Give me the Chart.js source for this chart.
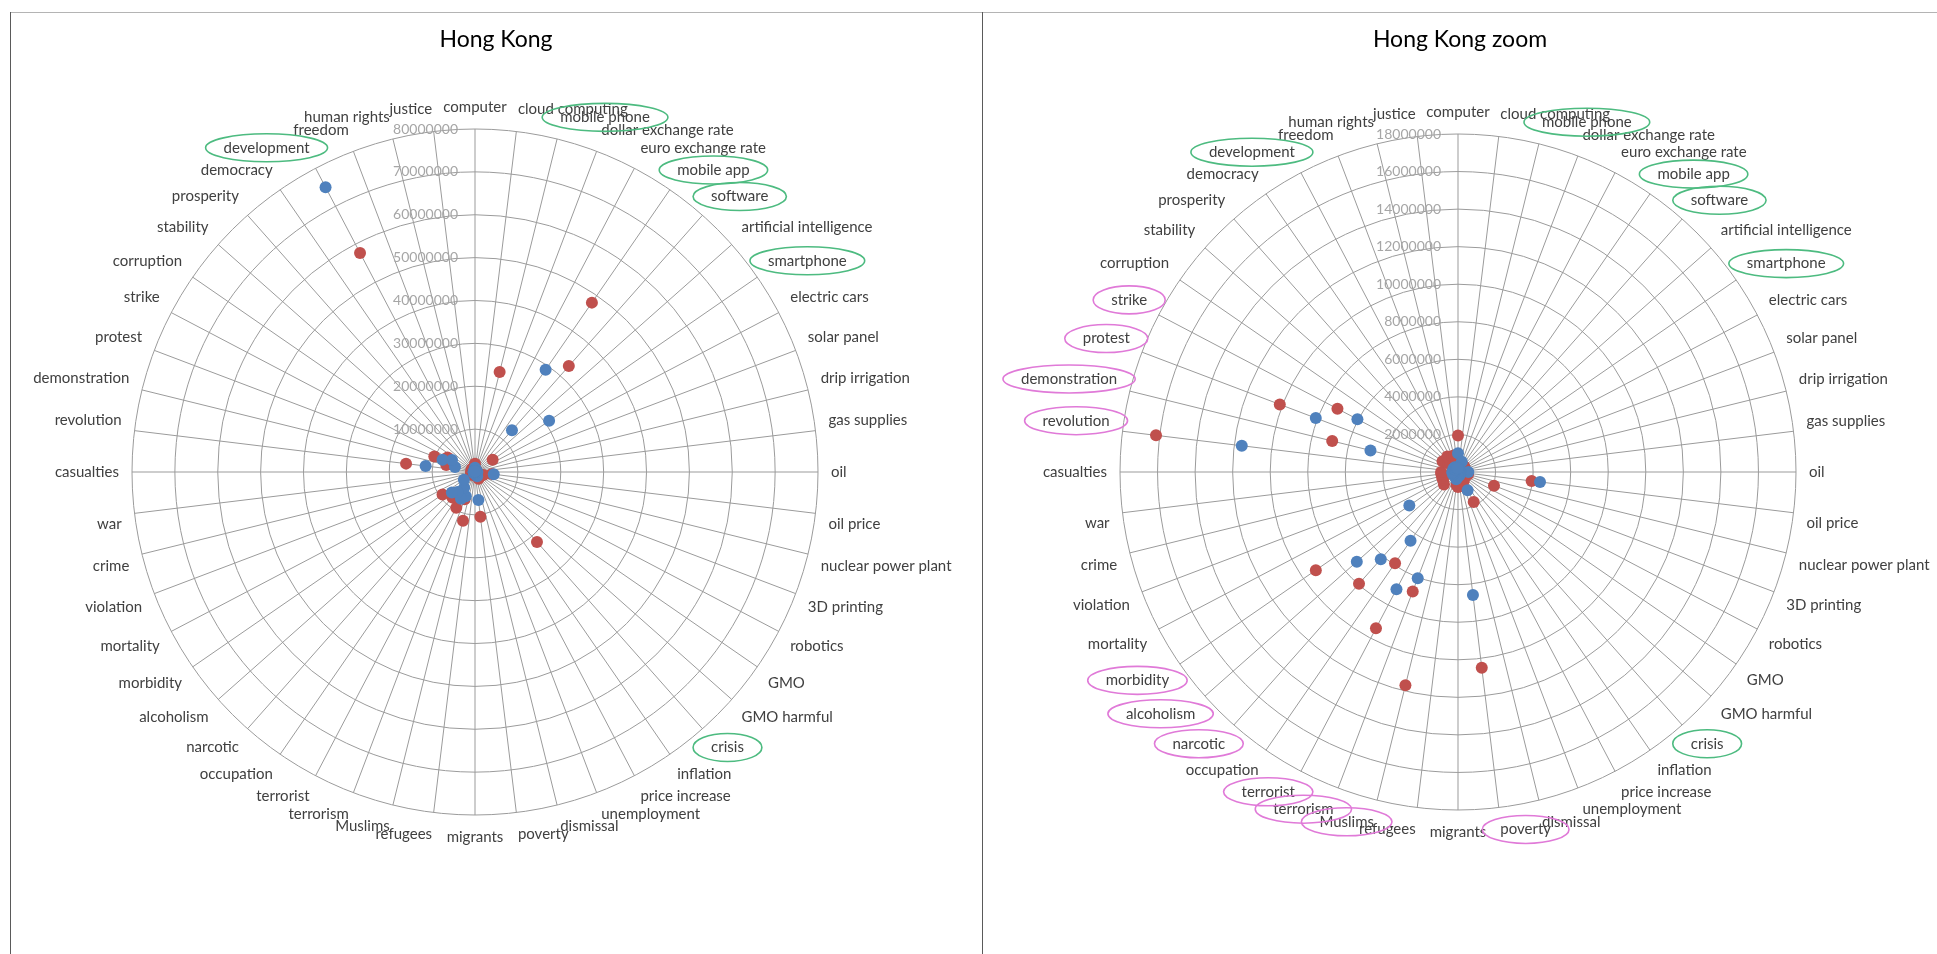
<!DOCTYPE html>
<html>
<head>
<meta charset="utf-8">
<title>Hong Kong</title>
<script src="https://cdn.jsdelivr.net/npm/chart.js@4.4.1/dist/chart.umd.min.js"></script>
<style>
  html, body { margin: 0; padding: 0; background: #fff; width: 1937px; height: 954px; overflow: hidden; }
  .line { position: absolute; }
  #topLine { left: 10px; top: 12px; width: 1927px; border-top: 1px solid #b4b4b4; }
  #leftLine { left: 10px; top: 12px; height: 942px; border-left: 1px solid #5a5a5a; }
  #midLine { left: 982px; top: 12px; height: 942px; border-left: 1px solid #5a5a5a; }
  .title { position: absolute; top: 24px; font-family: Lato, sans-serif; font-size: 23px; color: #000;
           transform: translateX(-50%); white-space: nowrap; }
  canvas { position: absolute; top: 12px; }
</style>
</head>
<body>
<div class="line" id="topLine"></div>
<div class="line" id="leftLine"></div>
<div class="line" id="midLine"></div>
<canvas id="hk" width="1050" height="942" style="left:-50px"></canvas>
<canvas id="hkZoom" width="1050" height="942" style="left:933px"></canvas>
<div class="title" style="left:496px">Hong Kong</div>
<div class="title" style="left:1460px">Hong Kong zoom</div>
<script>
const categories = [
  'computer', 'cloud computing', 'mobile phone', 'dollar exchange rate', 'euro exchange rate',
  'mobile app', 'software', 'artificial intelligence', 'smartphone', 'electric cars',
  'solar panel', 'drip irrigation', 'gas supplies', 'oil', 'oil price',
  'nuclear power plant', '3D printing', 'robotics', 'GMO', 'GMO harmful',
  'crisis', 'inflation', 'price increase', 'unemployment', 'dismissal',
  'poverty', 'migrants', 'refugees', 'Muslims', 'terrorism',
  'terrorist', 'occupation', 'narcotic', 'alcoholism', 'morbidity',
  'mortality', 'violation', 'crime', 'war', 'casualties',
  'revolution', 'demonstration', 'protest', 'strike', 'corruption',
  'stability', 'prosperity', 'democracy', 'development', 'freedom',
  'human rights', 'justice'
];

// blue series
const blueValues = [
  1000000, 150000, 300000, 580000, 150000,
  29000000, 13000000, 150000, 21000000, 100000,
  100000, 50000, 150000, 550000, 4400000,
  150000, 150000, 150000, 100000, 100000,
  400000, 150000, 1100000, 200000, 150000,
  6600000, 250000, 200000, 400000, 6050000,
  7050000, 4450000, 6200000, 7200000, 3150000,
  300000, 250000, 250000, 300000, 300000,
  11600000, 4800000, 8100000, 6050000, 300000,
  200000, 200000, 300000, 75000000, 250000,
  250000, 200000
];

// red series
const redValues = [
  1950000, 450000, 24000000, 400000, 450000,
  48000000, 33000000, 450000, 5000000, 350000,
  350000, 300000, 450000, 400000, 3950000,
  550000, 2050000, 450000, 400000, 400000,
  21800000, 550000, 1800000, 700000, 600000,
  10500000, 800000, 700000, 11700000, 6800000,
  9400000, 5900000, 7950000, 1000000, 9200000,
  900000, 900000, 800000, 900000, 900000,
  16200000, 6900000, 10150000, 7250000, 1000000,
  700000, 600000, 1000000, 57700000, 900000,
  900000, 600000
];

const hkTicks = [10000000, 20000000, 30000000, 40000000, 50000000, 60000000, 70000000, 80000000];
const zoomTicks = [2000000, 4000000, 6000000, 8000000, 10000000, 12000000, 14000000, 16000000, 18000000];

// categories left out of the zoomed chart, and the circled labels
const zoomHidden = ['mobile phone', 'mobile app', 'software', 'smartphone', 'development', 'crisis'];
const greenCircled = ['mobile phone', 'mobile app', 'software', 'smartphone', 'development', 'crisis'];
const pinkCircled = ['strike', 'protest', 'demonstration', 'revolution', 'morbidity', 'alcoholism',
  'narcotic', 'terrorist', 'terrorism', 'Muslims', 'poverty'];

const tickLabels = {
  id: 'tickLabels',
  beforeDatasetsDraw(chart) {
    const s = chart.scales.r;
    const ctx = chart.ctx;
    ctx.save();
    ctx.font = '14px Lato';
    ctx.fillStyle = '#a6a6a6';
    ctx.textAlign = 'right';
    ctx.textBaseline = 'middle';
    s.ticks.forEach(t => {
      if (t.value > 0) {
        ctx.fillText(String(t.value), s.xCenter - 17, s.yCenter - s.getDistanceFromCenterForValue(t.value));
      }
    });
    ctx.restore();
  }
};

function circles(green, pink) {
  return {
    id: 'circles',
    afterDraw(chart) {
      const items = chart.scales.r._pointLabelItems;
      const ctx = chart.ctx;
      ctx.save();
      ctx.lineWidth = 1.6;
      categories.forEach((c, i) => {
        let col = null;
        if (green.includes(c)) col = '#4dbb80';
        else if (pink.includes(c)) col = '#e07ad8';
        if (!col || !items[i]) return;
        const it = items[i];
        ctx.beginPath();
        ctx.ellipse((it.left + it.right) / 2, (it.top + it.bottom) / 2,
          (it.right - it.left) / 2 + 18, 14, 0, 0, Math.PI * 2);
        ctx.strokeStyle = col;
        ctx.stroke();
      });
      ctx.restore();
    }
  };
}

function makeChart(id, blue, red, ticks, pad, green, pink) {
  return new Chart(document.getElementById(id), {
    type: 'radar',
    data: {
      labels: categories,
      datasets: [{
        label: 'blue',
        data: blue,
        showLine: false,
        fill: false,
        pointRadius: 6,
        pointHoverRadius: 6,
        pointBorderWidth: 0,
        pointBackgroundColor: '#4F81BD',
        pointBorderColor: '#4F81BD'
      }, {
        label: 'red',
        data: red,
        showLine: false,
        fill: false,
        pointRadius: 6,
        pointHoverRadius: 6,
        pointBorderWidth: 0,
        pointBackgroundColor: '#C0504D',
        pointBorderColor: '#C0504D'
      }]
    },
    options: {
      responsive: false,
      animation: false,
      layout: { padding: pad },
      plugins: {
        legend: { display: false },
        tooltip: { enabled: false }
      },
      scales: {
        r: {
          min: 0,
          max: ticks[ticks.length - 1],
          ticks: { display: false, stepSize: ticks[0] },
          grid: { circular: true, color: '#9b9b9b', lineWidth: 1 },
          angleLines: { color: '#9b9b9b', lineWidth: 1 },
          pointLabels: {
            font: { family: 'Lato', size: 15 },
            color: '#404040',
            padding: 13
          }
        }
      }
    },
    plugins: [tickLabels, circles(green, pink)]
  });
}

document.fonts.load('15px Lato').then(() => {
  makeChart('hk', blueValues, redValues, hkTicks,
    { top: 86, bottom: 108, left: 0, right: 0 }, greenCircled, []);

  const zoomBlue = blueValues.map((v, i) => zoomHidden.includes(categories[i]) ? null : v);
  const zoomRed = redValues.map((v, i) => zoomHidden.includes(categories[i]) ? null : v);
  makeChart('hkZoom', zoomBlue, zoomRed, zoomTicks,
    { top: 91, bottom: 113, left: 0, right: 0 }, greenCircled, pinkCircled);
});
</script>
</body>
</html>
